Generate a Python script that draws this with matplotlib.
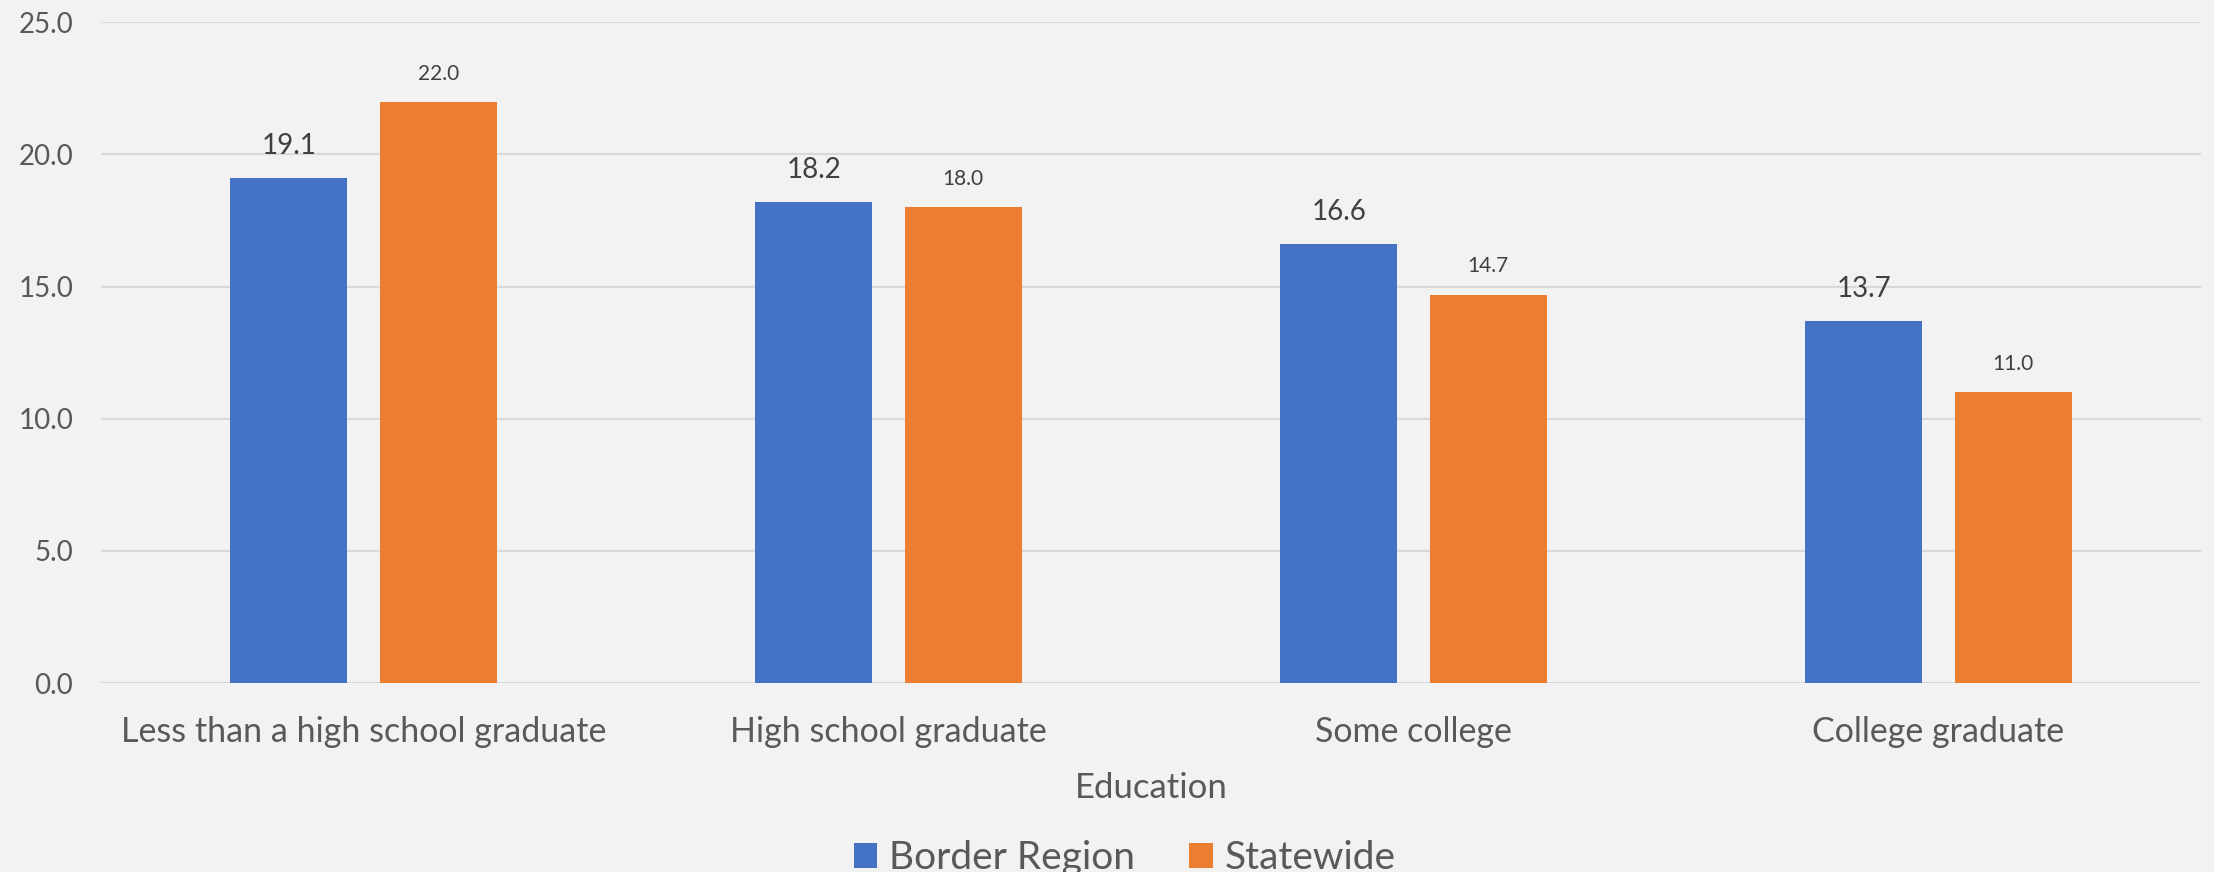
import numpy as np
from matplotlib import pyplot as plt

# colors
BLUE = "#4472c4"
ORANGE = "#ed7d31"
BG = "#f2f2f2"
GRID = "#d9d9d9"
TEXT = "#595959"
LABEL = "#404040"

categories = ["Less than a high school graduate", "High school graduate", "Some college", "College graduate"]
border_region = [19.1, 18.2, 16.6, 13.7]
statewide = [22.0, 18.0, 14.7, 11.0]
y_ticks = [0, 5, 10, 15, 20, 25]

plt.rcParams['font.family'] = ['Lato', 'DejaVu Sans']

fig = plt.figure(figsize=(22.14, 8.72), dpi=100, facecolor=BG)
ax = fig.add_axes([0.0456, 0.2167, 0.9485, 0.7577])
ax.set_facecolor(BG)

x = np.arange(len(categories))
bar_width = 0.223
offset = 0.1425

bars1 = ax.bar(x - offset, border_region, width=bar_width, color=BLUE, label='Border Region', zorder=3)
bars2 = ax.bar(x + offset, statewide, width=bar_width, color=ORANGE, label='Statewide', zorder=3)

for rect, val in zip(bars1, border_region):
    ax.annotate(f"{val:.1f}", xy=(rect.get_x() + rect.get_width() / 2, val), xytext=(0, 14),
                textcoords="offset points", ha='center', va='bottom', fontsize=20, color=LABEL)
for rect, val in zip(bars2, statewide):
    ax.annotate(f"{val:.1f}", xy=(rect.get_x() + rect.get_width() / 2, val), xytext=(0, 13),
                textcoords="offset points", ha='center', va='bottom', fontsize=15, color=LABEL)

ax.set_xlim(-0.5, len(categories) - 0.5)
ax.set_ylim(0, 25)
ax.set_yticks(y_ticks)
ax.set_yticklabels([f"{t:.1f}" for t in y_ticks])
ax.set_xticks(x)
ax.set_xticklabels(categories)
ax.yaxis.grid(True, color=GRID, linewidth=1.5, zorder=0)
ax.set_axisbelow(True)
for s in ax.spines.values():
    s.set_visible(False)
ax.tick_params(axis='both', length=0, labelcolor=TEXT)
ax.tick_params(axis='x', pad=24, labelsize=24.5)
ax.tick_params(axis='y', pad=20, labelsize=20)

ax.set_xlabel('Education', fontsize=25, color=TEXT, labelpad=17)

handles, labels = ax.get_legend_handles_labels()
fig.legend(handles, labels, loc="center", ncol=2, fontsize=28, frameon=False,
           bbox_to_anchor=(0.508, 0.016), handlelength=0.6, handleheight=0.6,
           handletextpad=0.3, columnspacing=1.4, labelcolor=TEXT)

plt.savefig("out.png", dpi=100, facecolor=BG)
